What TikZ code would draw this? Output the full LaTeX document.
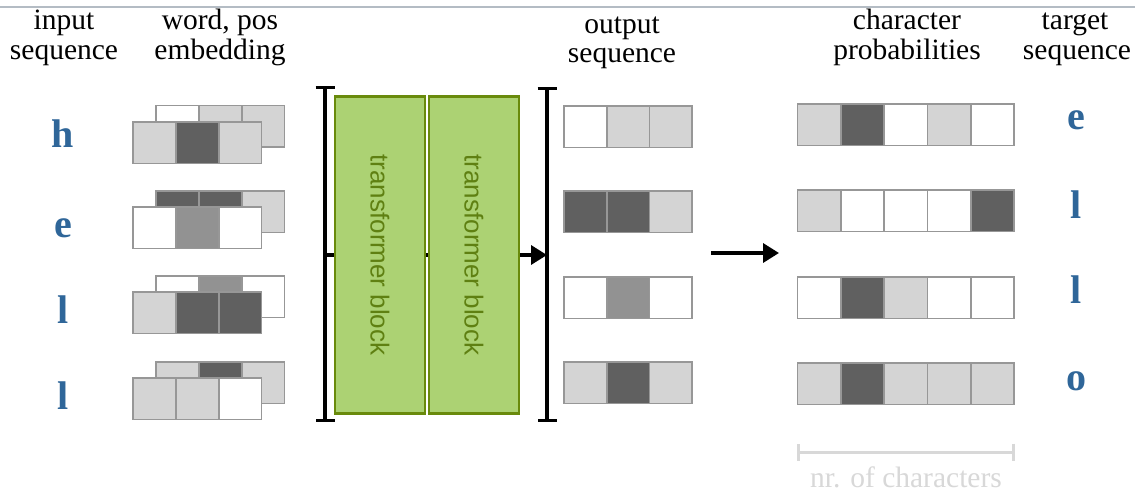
\documentclass[tikz,border=0pt]{standalone}
\usepackage{fontspec}
\setmainfont{Liberation Serif}
\setsansfont{Liberation Sans}
\usetikzlibrary{arrows.meta}

\definecolor{lt}{HTML}{D4D4D4}
\definecolor{dk}{HTML}{606060}
\definecolor{md}{HTML}{929292}
\definecolor{wt}{HTML}{FFFFFF}
\definecolor{cellbd}{HTML}{979797}
\definecolor{seqblue}{HTML}{2F6699}
\definecolor{blockfill}{HTML}{ACD273}
\definecolor{blockbd}{HTML}{698A0C}
\definecolor{blocktext}{HTML}{5F8012}
\definecolor{rulegray}{HTML}{B4BCC4}
\definecolor{faint}{HTML}{D8D8D8}

\tikzset{
  cell/.style={draw=cellbd, line width=1.8pt, minimum height=41.5pt,
    inner sep=0pt, outer sep=0pt, anchor=north west},
  hdr/.style={font=\fontsize{29.5}{30}\selectfont, anchor=base, inner sep=0pt},
  ltr/.style={font=\fontsize{40}{40}\selectfont\bfseries, text=seqblue,
    anchor=base, inner sep=0pt},
  tblock/.style={draw=blockbd, fill=blockfill, line width=2.6pt, rotate=-90,
    minimum width=317pt, minimum height=90pt, inner sep=0pt,
    font=\sffamily\fontsize{26}{26}\selectfont, text=blocktext},
  bracket/.style={line width=3.4pt, {Bar[width=19pt]}-{Bar[width=19pt]}},
  link/.style={line width=3.4pt},
  flow/.style={line width=3.4pt, -{Triangle[length=16pt, width=19pt]}},
}

% one row of cells: name prefix, left x, top y, cell width, fill colours
\newcommand{\cellrow}[5]{%
  \foreach \c [count=\i from 0] in {#5}{%
    \node[cell, fill=\c, minimum width=#4pt] (#1\i) at ({#2+\i*#4},#3) {};}}

\begin{document}
\begin{tikzpicture}[x=1pt,y=-1pt]
\fill[white] (0,0) rectangle (1135,492);
\useasboundingbox (0,0) rectangle (1135,492);

% top rule
\coordinate (ruleL) at (0,7);
\coordinate (ruleR) at (1135,7);
\draw[rulegray, line width=1.3pt] (ruleL) -- (ruleR);

% column headers
\node[hdr] (hin1) at (64,30) {input};
\node[hdr] (hin2) at (64,59.5) {sequence};
\node[hdr] (hemb1) at (220,30) {word, pos};
\node[hdr] (hemb2) at (220,59.5) {embedding};
\node[hdr] (hout1) at (622,34) {output};
\node[hdr] (hout2) at (622,63) {sequence};
\node[hdr] (hchr1) at (907,30) {character};
\node[hdr] (hchr2) at (907,59.5) {probabilities};
\node[hdr] (htgt1) at (1075,30) {target};
\node[hdr] (htgt2) at (1077,59.5) {sequence};

% input characters
\node[ltr] (in1) at (63,147) {h};
\node[ltr] (in2) at (63,237) {e};
\node[ltr] (in3) at (63,323) {l};
\node[ltr] (in4) at (63,409) {l};

% word embeddings (back) and position embeddings (front)
\cellrow{eb1-}{156}{105.5}{42.8}{wt,lt,lt}
\cellrow{ef1-}{133}{122}{42.8}{lt,dk,lt}
\cellrow{eb2-}{156}{191}{42.8}{dk,dk,lt}
\cellrow{ef2-}{133}{207}{42.8}{wt,md,wt}
\cellrow{eb3-}{156}{276}{42.8}{wt,md,wt}
\cellrow{ef3-}{133}{292}{42.8}{lt,dk,dk}
\cellrow{eb4-}{156}{362}{42.8}{lt,dk,lt}
\cellrow{ef4-}{133}{378}{42.8}{lt,lt,wt}

% transformer stack
\node[tblock] (b1) at (380,255) {transformer block};
\node[tblock] (b2) at (474,255) {transformer block};

\coordinate (lbt) at (325,86);
\coordinate (lbb) at (325,422);
\coordinate (lbm) at (325,255);
\coordinate (rbt) at (547,87);
\coordinate (rbb) at (547,422);
\coordinate (rbm) at (547,255);
\draw[bracket] (lbt) -- (lbb);
\draw[bracket] (rbt) -- (rbb);
\draw[link] (lbm) -- (b1.south);
\draw[link] (b1.north) -- (b2.south);
\draw[flow] (b2.north) -- (rbm);

% output sequence
\cellrow{o1-}{564}{106}{42.7}{wt,lt,lt}
\cellrow{o2-}{564}{191}{42.7}{dk,dk,lt}
\cellrow{o3-}{564}{277}{42.7}{wt,md,wt}
\cellrow{o4-}{564}{362}{42.7}{lt,dk,lt}

% projection to character probabilities
\coordinate (pa) at (711,253);
\coordinate (pb) at (779,253);
\draw[flow] (pa) -- (pb);

\cellrow{p1-}{797.5}{104}{43.3}{lt,dk,wt,lt,wt}
\cellrow{p2-}{797.5}{190}{43.3}{lt,wt,wt,wt,dk}
\cellrow{p3-}{797.5}{277}{43.3}{wt,dk,lt,wt,wt}
\cellrow{p4-}{797.5}{363}{43.3}{lt,dk,lt,lt,lt}

% target characters
\node[ltr] (t1) at (1076,130) {e};
\node[ltr] (t2) at (1076,218) {l};
\node[ltr] (t3) at (1076,303) {l};
\node[ltr] (t4) at (1076,390) {o};

% width of the probability vectors
\coordinate (wl) at (797,452);
\coordinate (wr) at (1015,452);
\draw[faint, line width=3pt, {Bar[width=17pt]}-{Bar[width=17pt]}] (wl) -- (wr);
\node[hdr, text=faint] (wlab) at (906,487) {nr. of characters};
\end{tikzpicture}
\end{document}
